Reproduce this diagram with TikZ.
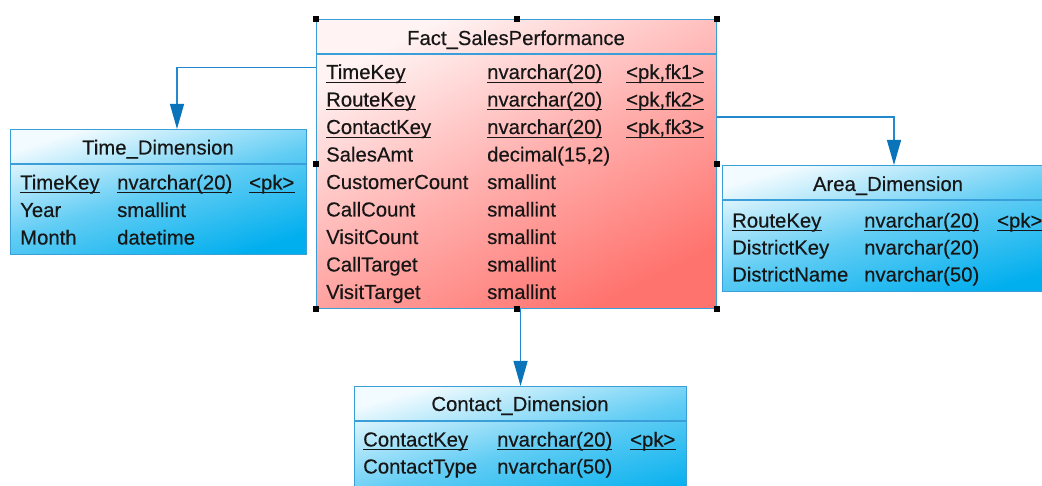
\documentclass[tikz,border=0pt]{standalone}
\usepackage{fontspec}
\setmainfont{Liberation Sans}
\newfontfamily\diagfont{Liberation Sans}[FakeBold=0.3]
\usetikzlibrary{arrows.meta,calc}

\definecolor{factlight}{HTML}{FFF3F3}
\definecolor{factmid}{HTML}{FFB0AE}
\definecolor{factdark}{HTML}{FF736E}
\definecolor{dimlight}{HTML}{F2FBFF}
\definecolor{dimmid}{HTML}{62CDF4}
\definecolor{dimdark}{HTML}{02AFEE}
\definecolor{edgeblue}{HTML}{3A9FD8}
\definecolor{linkblue}{HTML}{2389CF}
\definecolor{tipblue}{HTML}{0A74BA}
\definecolor{inkgray}{HTML}{161616}

% field text: name, x, baseline y, content
\newcommand\fld[4]{\node[fieldtext] (#1) at (#2,#3) {#4};}
% underlined key field
\newcommand\ufld[4]{\fld{#1}{#2}{#3}{#4}%
  \draw[keyline] ([yshift=-3.4pt]#1.base west) -- ([yshift=-3.4pt]#1.base east);}

\begin{document}
\begin{tikzpicture}[x=1pt,y=-1pt,
  tablebox/.style={draw=edgeblue, line width=1.1pt, rectangle, inner sep=0pt,
    anchor=north west},
  % diagonal shading from the top left corner to the bottom right one
  facttable/.style={tablebox, top color=factlight, bottom color=factdark,
    middle color=factmid, shading angle=#1},
  dimtable/.style={tablebox, top color=dimlight, bottom color=dimdark,
    middle color=dimmid, shading angle=#1},
  headrule/.style={draw=edgeblue, line width=1.1pt},
  fieldtext/.style={anchor=base west, inner sep=0pt, text=inkgray,
    font=\diagfont\fontsize{20.3}{23}\selectfont},
  titletext/.style={anchor=base, inner sep=0pt, text=inkgray,
    font=\diagfont\fontsize{20.3}{23}\selectfont},
  keyline/.style={draw=inkgray, line width=1pt},
  link/.style={draw=linkblue, line width=1.3pt,
    -{Triangle[length=25pt,width=14pt,color=tipblue]}},
  handle/.style={fill=black}
]
\useasboundingbox (0,0) rectangle (1042,486);
\clip (0,0) rectangle (1042,486);

% ---------- tables ----------
\node[facttable=27, minimum width=400pt, minimum height=289pt] (fact) at (316,19) {};
\node[dimtable=17, minimum width=296pt, minimum height=125pt] (time) at (10,129) {};
\node[dimtable=16, minimum width=333pt, minimum height=126pt] (area) at (722,165) {};
\node[dimtable=16, minimum width=332pt, minimum height=125pt] (contact) at (354,386) {};

\draw[headrule] (fact.west |- 0,54) -- (fact.east |- 0,54);
\draw[headrule] (time.west |- 0,164) -- (time.east |- 0,164);
\draw[headrule] (area.west |- 0,200) -- (area.east |- 0,200);
\draw[headrule] (contact.west |- 0,421) -- (contact.east |- 0,421);

% ---------- Fact_SalesPerformance ----------
\node[titletext] (factT) at (516,45) {Fact\_SalesPerformance};
\ufld{f1n}{326}{79}{TimeKey}     \ufld{f1t}{487}{79}{nvarchar(20)}    \ufld{f1k}{626}{79}{<pk,fk1>}
\ufld{f2n}{326}{106.5}{RouteKey}  \ufld{f2t}{487}{106.5}{nvarchar(20)} \ufld{f2k}{626}{106.5}{<pk,fk2>}
\ufld{f3n}{326}{134}{ContactKey}  \ufld{f3t}{487}{134}{nvarchar(20)}  \ufld{f3k}{626}{134}{<pk,fk3>}
\fld{f4n}{326}{161.5}{SalesAmt}      \fld{f4t}{487}{161.5}{decimal(15,2)}
\fld{f5n}{326}{189}{CustomerCount}   \fld{f5t}{487}{189}{smallint}
\fld{f6n}{326}{216.5}{CallCount}     \fld{f6t}{487}{216.5}{smallint}
\fld{f7n}{326}{244}{VisitCount}      \fld{f7t}{487}{244}{smallint}
\fld{f8n}{326}{271.5}{CallTarget}    \fld{f8t}{487}{271.5}{smallint}
\fld{f9n}{326}{299}{VisitTarget}     \fld{f9t}{487}{299}{smallint}

% ---------- Time_Dimension ----------
\node[titletext] (timeT) at (158,154.5) {Time\_Dimension};
\ufld{t1n}{20}{189.5}{TimeKey} \ufld{t1t}{117}{189.5}{nvarchar(20)} \ufld{t1k}{249}{189.5}{<pk>}
\fld{t2n}{20}{217}{Year}       \fld{t2t}{117}{217}{smallint}
\fld{t3n}{20}{244.5}{Month}    \fld{t3t}{117}{244.5}{datetime}

% ---------- Area_Dimension ----------
\node[titletext] (areaT) at (888,191) {Area\_Dimension};
\ufld{a1n}{732}{227.5}{RouteKey} \ufld{a1t}{864}{227.5}{nvarchar(20)} \ufld{a1k}{997}{227.5}{<pk>}
\fld{a2n}{732}{254.5}{DistrictKey}  \fld{a2t}{864}{254.5}{nvarchar(20)}
\fld{a3n}{732}{281.5}{DistrictName} \fld{a3t}{864}{281.5}{nvarchar(50)}

% ---------- Contact_Dimension ----------
\node[titletext] (contactT) at (520,411) {Contact\_Dimension};
\ufld{c1n}{363}{446.5}{ContactKey} \ufld{c1t}{497}{446.5}{nvarchar(20)} \ufld{c1k}{630}{446.5}{<pk>}
\fld{c2n}{363}{473.5}{ContactType} \fld{c2t}{497}{473.5}{nvarchar(50)}

% ---------- references ----------
\coordinate (timeIn) at (time.north -| 177,0);
\coordinate (areaIn) at (area.north -| 894,0);
\draw[link] (fact.west |- 0,67.5) -| (timeIn);
\draw[link] (fact.east |- 0,117) -| (areaIn);
\draw[link] (contact.north |- fact.south) -- (contact.north);

% ---------- selection handles ----------
\foreach \a in {north west,north,north east,west,east,south west,south,south east}
  \fill[handle] ([shift={(-3,-3)}]fact.\a) rectangle ++(6,6);
\end{tikzpicture}
\end{document}
